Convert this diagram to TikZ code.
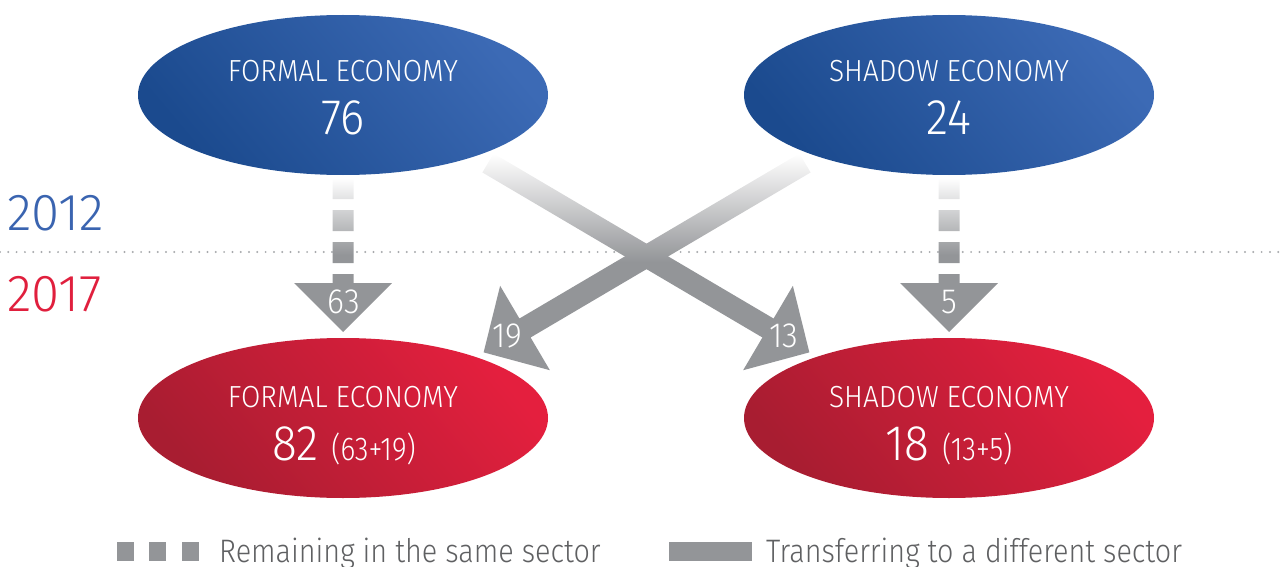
\documentclass[tikz,border=0pt]{standalone}
\usepackage{fontspec}
\setmainfont{Fira Sans Light}[FakeStretch=0.92]
\newfontfamily\legfont{Fira Sans Light}[FakeStretch=0.885]
\newfontfamily\yrfont{Fira Sans Light}[FakeStretch=0.98]
\newfontfamily\parfont{Fira Sans Light}[FakeStretch=0.85]
\usetikzlibrary{shapes.geometric,calc}
\definecolor{bluedark}{HTML}{1B4A8E}
\definecolor{bluelight}{HTML}{3C6AB5}
\definecolor{reddark}{HTML}{A81D31}
\definecolor{redlight}{HTML}{E41F3E}
\definecolor{arrgrey}{HTML}{939598}
\definecolor{yrblue}{HTML}{3A64B0}
\definecolor{yrred}{HTML}{E01F3D}
\definecolor{legtext}{HTML}{5F6062}
\definecolor{dotgrey}{HTML}{A7A9AC}
\newcommand\fsz[1]{\fontsize{#1}{#1}\selectfont}
\begin{document}
\begin{tikzpicture}[x=1pt,y=-1pt,
  ell/.style={ellipse, minimum width=410pt, minimum height=160pt, inner sep=0pt},
  blueell/.style={ell, top color=bluelight, bottom color=bluedark, shading angle=-50},
  redell/.style={ell, top color=redlight, bottom color=reddark, shading angle=-50},
  ttl/.style={anchor=base, text=white, inner sep=0pt, font=\fsz{30.5}},
  bignum/.style={anchor=base, text=white, inner sep=0pt, font=\fsz{50}},
  arrlabel/.style={text=white, inner sep=0pt, font=\fsz{35}},
  fadearrow/.style={shade, top color=white, bottom color=arrgrey, middle color=arrgrey},
  legtxt/.style={anchor=base west, inner sep=0pt, text=legtext, font=\legfont\fsz{32.5}},
  yr/.style={anchor=base west, inner sep=0pt, font=\yrfont\fsz{52}}
]
\useasboundingbox (0,0) rectangle (1282,567);

% dotted separator
\coordinate (dl) at (0,252);
\coordinate (dr) at (1282,252);
\draw[dotgrey, line width=2.2pt, line cap=round, dash pattern=on 0pt off 8.3pt] (dl) -- (dr);

% years
\node[yr, text=yrblue] (y12) at (7,230) {2012};
\node[yr, text=yrred] (y17) at (7,311) {2017};

% vertical dashed arrows
\foreach \c/\nm in {343/a, 949/b}{
  \path[fadearrow]
    (\c-10.5,178) rectangle (\c+10.5,199)
    (\c-10.5,210) rectangle (\c+10.5,231)
    (\c-10.5,242) rectangle (\c+10.5,263)
    (\c-10.5,274) -- (\c-10.5,283) -- (\c-49,283) -- (\c,332) -- (\c+49,283)
    -- (\c+10.5,283) -- (\c+10.5,274) -- cycle;
}
\node[arrlabel] (l63) at (344,302) {63};
\node[arrlabel] (l5) at (949,302) {5};

% crossing arrows
\coordinate (s13) at (488,163);
\coordinate (e13) at (768,328);
\coordinate (t13) at ($(e13)!-48pt!(s13)$);
\coordinate (s19) at (805,163);
\coordinate (e19) at (525,328);
\coordinate (t19) at ($(e19)!-48pt!(s19)$);
\foreach \s/\e/\t in {s13/e13/t13, s19/e19/t19}{
  \path[fadearrow]
    ($(\s)!11pt!90:(\e)$) -- ($(\e)!11pt!-90:(\s)$) -- ($(\e)!49pt!-90:(\s)$)
    -- (\t) -- ($(\e)!49pt!90:(\s)$) -- ($(\e)!11pt!90:(\s)$)
    -- ($(\s)!11pt!-90:(\e)$) -- cycle;
}
\node[arrlabel] (l13) at (784,336) {13};
\node[arrlabel] (l19) at (507,336) {19};

% ellipses
\node[blueell] (fe12) at (343,95) {};
\node[blueell] (se12) at (949,95) {};
\node[redell] (fe17) at (343,418) {};
\node[redell] (se17) at (949,418) {};

\node[ttl] (fe12t) at (343,82) {FORMAL ECONOMY};
\node[bignum] (fe12n) at (343,135) {76};
\node[ttl] (se12t) at (949,82) {SHADOW ECONOMY};
\node[bignum] (se12n) at (949,135) {24};
\node[ttl] (fe17t) at (343,407) {FORMAL ECONOMY};
\node[bignum] (fe17n) at (344,460) {82 {\parfont\fsz{33}(63+19)}};
\node[ttl] (se17t) at (949,407) {SHADOW ECONOMY};
\node[bignum] (se17n) at (949,460) {18 {\parfont\fsz{33}(13+5)}};

% legend
\fill[arrgrey] (117,542) rectangle (134,561);
\fill[arrgrey] (149,542) rectangle (166,561);
\fill[arrgrey] (182,542) rectangle (199,561);
\node[legtxt] (lg1) at (219,562) {Remaining in the same sector};
\fill[arrgrey] (669,542) rectangle (752,561);
\node[legtxt] (lg2) at (766,562) {Transferring to a different sector};
\end{tikzpicture}
\end{document}
